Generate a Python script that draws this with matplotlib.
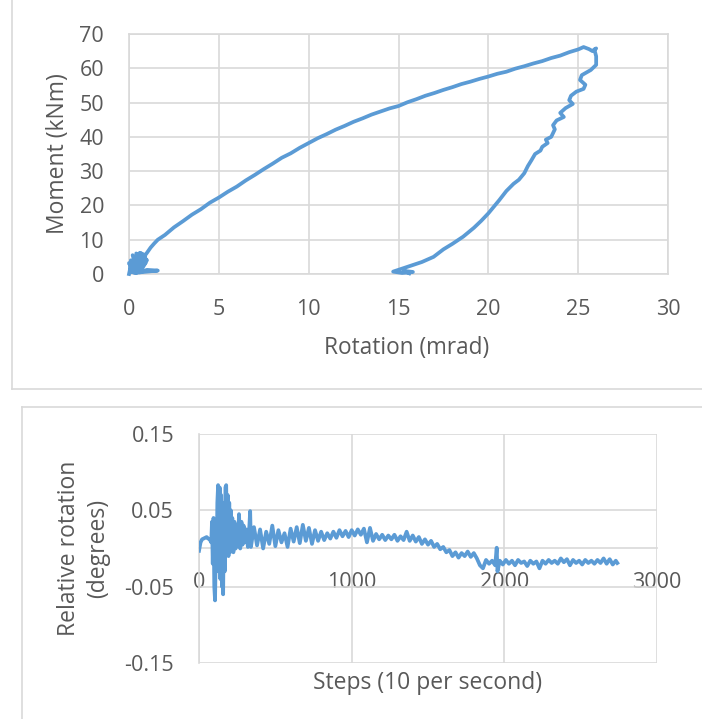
import matplotlib.pyplot as plt
from matplotlib.lines import Line2D

plt.rcParams['font.family'] = ['Open Sans', 'DejaVu Sans']

BLUE = '#5B9BD5'
GRID = '#D9D9D9'
TEXT = '#595959'

# top chart: moment vs rotation (origin cycles, loading branch, unloading branch)
rot_origin = [0.0, 0.1, 0.05, 0.3, 0.1, 0.45, 0.2, 0.6, 0.3, 0.75, 0.4, 0.9, 0.5, 0.95,
              0.6, 1.0, 1.6, 1.2, 0.8, 0.3, 0.0, 0.2, 0.1, 0.4, 0.2, 0.6, 0.4, 0.8,
              0.5, 1.0, 0.6, 0.9]
mom_origin = [0.0, 2.5, 0.5, 3.5, 1.0, 4.5, 0.5, 5.5, 1.0, 5.5, 0.3, 5.0, 1.5, 3.5,
              0.5, 1.2, 1.0, 0.8, 0.6, 0.3, 3.2, 1.5, 4.0, 2.0, 5.5, 2.5, 6.0, 3.0,
              5.8, 4.0, 6.2, 5.5]

rot_load = [1.0, 1.2, 1.4, 1.6, 2.0, 2.5, 3.0, 3.5, 4.0, 4.5, 5.0, 5.5, 6.0, 6.5, 7.0,
            7.5, 8.0, 8.5, 9.0, 9.5, 10.0, 10.5, 11.0, 11.5, 12.0, 12.5, 13.0, 13.5,
            14.0, 14.5, 15.0, 15.5, 16.0, 16.5, 17.0, 17.5, 18.0, 18.5, 19.0, 19.5,
            20.0, 20.5, 21.0, 21.5, 22.0, 22.5, 23.0, 23.5, 24.0, 24.5, 25.0, 25.3,
            25.6, 25.8, 26.0]
mom_load = [6.2, 7.7, 8.9, 10.0, 11.4, 13.6, 15.4, 17.3, 18.9, 20.8, 22.3, 24.0, 25.5,
            27.3, 28.9, 30.6, 32.2, 33.9, 35.2, 36.8, 38.2, 39.6, 40.8, 42.1, 43.2,
            44.4, 45.4, 46.5, 47.4, 48.3, 49.0, 50.1, 51.0, 52.0, 52.8, 53.7, 54.5,
            55.4, 56.1, 56.9, 57.6, 58.4, 59.0, 59.9, 60.6, 61.4, 62.1, 63.0, 63.7,
            64.7, 65.5, 66.2, 65.6, 65.0, 65.8]

rot_unload = [25.9, 26.0, 26.0, 25.7, 25.2, 25.1, 25.4, 25.3, 24.9, 24.6, 24.5, 24.7,
              24.3, 24.0, 24.2, 23.8, 23.6, 23.7, 23.5, 23.2, 23.3, 23.0, 22.9, 22.6,
              22.4, 22.2, 22.0, 21.7, 21.4, 21.0, 20.6, 20.0, 19.6, 19.2, 18.6, 18.0,
              17.5, 16.95, 16.3, 15.5, 15.0, 14.7, 15.2, 15.8, 15.3, 15.6]
mom_unload = [65.5, 63.5, 61.0, 59.5, 58.0, 56.6, 55.2, 54.0, 53.2, 52.0, 50.7, 49.6,
              48.4, 47.0, 45.8, 44.8, 43.4, 42.2, 40.0, 39.2, 38.2, 37.1, 36.0, 35.0,
              33.2, 31.5, 29.4, 27.5, 26.3, 24.2, 21.5, 17.7, 15.5, 13.5, 10.9, 8.8,
              7.2, 5.0, 3.5, 2.1, 1.2, 0.7, 0.3, 0.6, 0.9, 0.2]

# bottom chart: relative rotation vs step
steps = [0, 10, 20, 30, 40, 50, 60, 70, 80, 85, 90, 95, 100, 105, 110, 115, 120, 125,
         130, 135, 140, 145, 150, 155, 158, 163, 168, 173, 178, 183, 188, 193, 198,
         203, 208, 213, 218, 225, 232, 240, 248, 255, 262, 270, 278, 285, 292, 300,
         310, 320, 330, 335,
         340, 360, 380, 400, 420, 440, 460, 480, 500, 520, 540, 560, 580, 600, 620,
         640, 660, 680, 700, 720, 740, 760, 780, 800, 820, 840, 860, 880, 900, 920,
         940, 960, 980, 1000, 1020, 1040, 1060, 1080, 1100, 1120, 1140, 1160, 1180,
         1200, 1220, 1240, 1260, 1280, 1300, 1320, 1340, 1360, 1380, 1400, 1420,
         1440, 1460, 1480, 1500, 1520, 1540, 1560, 1580, 1600, 1620, 1640, 1660,
         1680, 1700, 1720, 1740, 1760, 1780, 1800, 1820, 1840, 1860, 1880, 1900,
         1920, 1940, 1950, 1955, 1970, 1990, 2010, 2030, 2050, 2070, 2090, 2110,
         2130, 2150, 2170, 2190, 2210, 2230, 2250, 2270, 2290, 2310, 2330, 2350,
         2370, 2390, 2410, 2430, 2450, 2470, 2490, 2510, 2530, 2550, 2570, 2590,
         2610, 2630, 2650, 2670, 2690, 2710, 2730, 2740]
rel_rot = [-0.003, 0.008, 0.012, 0.013, 0.014, 0.015, 0.013, 0.012, 0.008, 0.035,
           -0.02, 0.04, -0.05, -0.068, 0.0, -0.03, 0.06, 0.083, -0.02, 0.08, -0.04,
           0.07, -0.05, 0.06, -0.06, 0.05, -0.03, 0.08, 0.083, 0.0, 0.07, -0.01,
           0.06, -0.005, 0.05, 0.0, 0.04, -0.005, 0.035, 0.0, 0.03, 0.005, 0.045,
           0.0, 0.035, 0.005, 0.03, 0.008, 0.025, 0.002, 0.03, 0.049,
           0.002, 0.028, 0.004, 0.025, 0.000, 0.022, 0.006, 0.030, 0.003, 0.024,
           0.008, 0.020, 0.002, 0.026, 0.009, 0.028, 0.007, 0.031, 0.010, 0.027,
           0.006, 0.024, 0.010, 0.022, 0.011, 0.020, 0.013, 0.022, 0.014, 0.024,
           0.016, 0.023, 0.015, 0.024, 0.017, 0.025, 0.018, 0.026, 0.008, 0.027,
           0.010, 0.019, 0.012, 0.018, 0.011, 0.017, 0.012, 0.018, 0.010, 0.016,
           0.011, 0.022, 0.010, 0.017, 0.009, 0.015, 0.006, 0.012, 0.005, 0.010,
           0.002, 0.006, -0.001, 0.002, -0.005, -0.002, -0.010, -0.005, -0.012,
           -0.006, -0.010, -0.004, -0.011, -0.006, -0.013, -0.022, -0.026, -0.015,
           -0.020, -0.016, -0.022, 0.001, -0.030, -0.016, -0.021, -0.015, -0.020,
           -0.016, -0.022, -0.015, -0.019, -0.017, -0.023, -0.016, -0.020, -0.017,
           -0.026, -0.016, -0.020, -0.015, -0.019, -0.016, -0.020, -0.013, -0.018,
           -0.014, -0.022, -0.015, -0.019, -0.016, -0.021, -0.015, -0.019, -0.016,
           -0.020, -0.015, -0.019, -0.013, -0.020, -0.014, -0.021, -0.016, -0.019]

top_xticks = [0, 5, 10, 15, 20, 25, 30]
top_yticks = [0, 10, 20, 30, 40, 50, 60, 70]
bot_xticks = [0, 1000, 2000, 3000]
bot_yticks = [-0.15, -0.05, 0.05, 0.15]

fig = plt.figure(figsize=(7.02, 7.19), dpi=100)

# chart frames (light grey borders of the two chart boxes)
fig.add_artist(Line2D([0.0171, 0.0171], [1.0, 0.459], color=GRID, lw=1.2, transform=fig.transFigure))
fig.add_artist(Line2D([0.0171, 1.0], [0.459, 0.459], color=GRID, lw=1.2, transform=fig.transFigure))
fig.add_artist(Line2D([0.0313, 1.0], [0.434, 0.434], color=GRID, lw=1.2, transform=fig.transFigure))
fig.add_artist(Line2D([0.0313, 0.0313], [0.434, 0.0], color=GRID, lw=1.2, transform=fig.transFigure))

# --- top ---
ax1 = fig.add_axes([0.1838, 0.6189, 0.7678, 0.3338])
ax1.plot(rot_origin + rot_load + rot_unload, mom_origin + mom_load + mom_unload,
         color=BLUE, lw=2.7, clip_on=False, zorder=3)
ax1.set_xlim(0, 30)
ax1.set_ylim(0, 70)
ax1.set_xticks(top_xticks)
ax1.set_yticks(top_yticks)
ax1.grid(True, color=GRID, lw=1.2)
ax1.set_axisbelow(True)
for s in ax1.spines.values():
    s.set_color(GRID)
    s.set_linewidth(1.2)
ax1.tick_params(length=0, labelsize=15.5, labelcolor=TEXT, pad=18)
fig.text(407 / 702, 1 - 348 / 719, 'Rotation (mrad)', ha='center', va='center',
         fontsize=16.3, color=TEXT)
fig.text(58 / 702, 1 - 154 / 719, 'Moment (kNm)', ha='center', va='center',
         rotation=90, fontsize=16.5, color=TEXT)

# --- bottom ---
ax2 = fig.add_axes([0.2835, 0.0779, 0.6524, 0.3185])
ax2.plot(steps, rel_rot, color=BLUE, lw=2.7, zorder=3)
ax2.set_xlim(0, 3000)
ax2.set_ylim(-0.15, 0.15)
ax2.set_xticks(bot_xticks)
ax2.set_yticks(bot_yticks)
ax2.set_yticklabels(['-0.15', '-0.05', '0.05', '0.15'])
ax2.grid(True, color=GRID, lw=1.2)
ax2.set_axisbelow(True)
ax2.spines['top'].set_visible(False)
ax2.spines['right'].set_visible(False)
ax2.spines['bottom'].set_position(('data', 0))
for s in ax2.spines.values():
    s.set_color(GRID)
    s.set_linewidth(1.2)
ax2.tick_params(length=0, labelsize=15.5, labelcolor=TEXT, pad=18)
ax2.tick_params(axis='x', pad=17)
fig.text(428 / 702, 1 - 683 / 719, 'Steps (10 per second)', ha='center', va='center',
         fontsize=16.5, color=TEXT)
fig.text(83.5 / 702, 1 - 548 / 719, 'Relative rotation\n(degrees)', ha='center',
         va='center', rotation=90, fontsize=16.5, color=TEXT, linespacing=1.3)

fig.savefig('out.png', dpi=100)
